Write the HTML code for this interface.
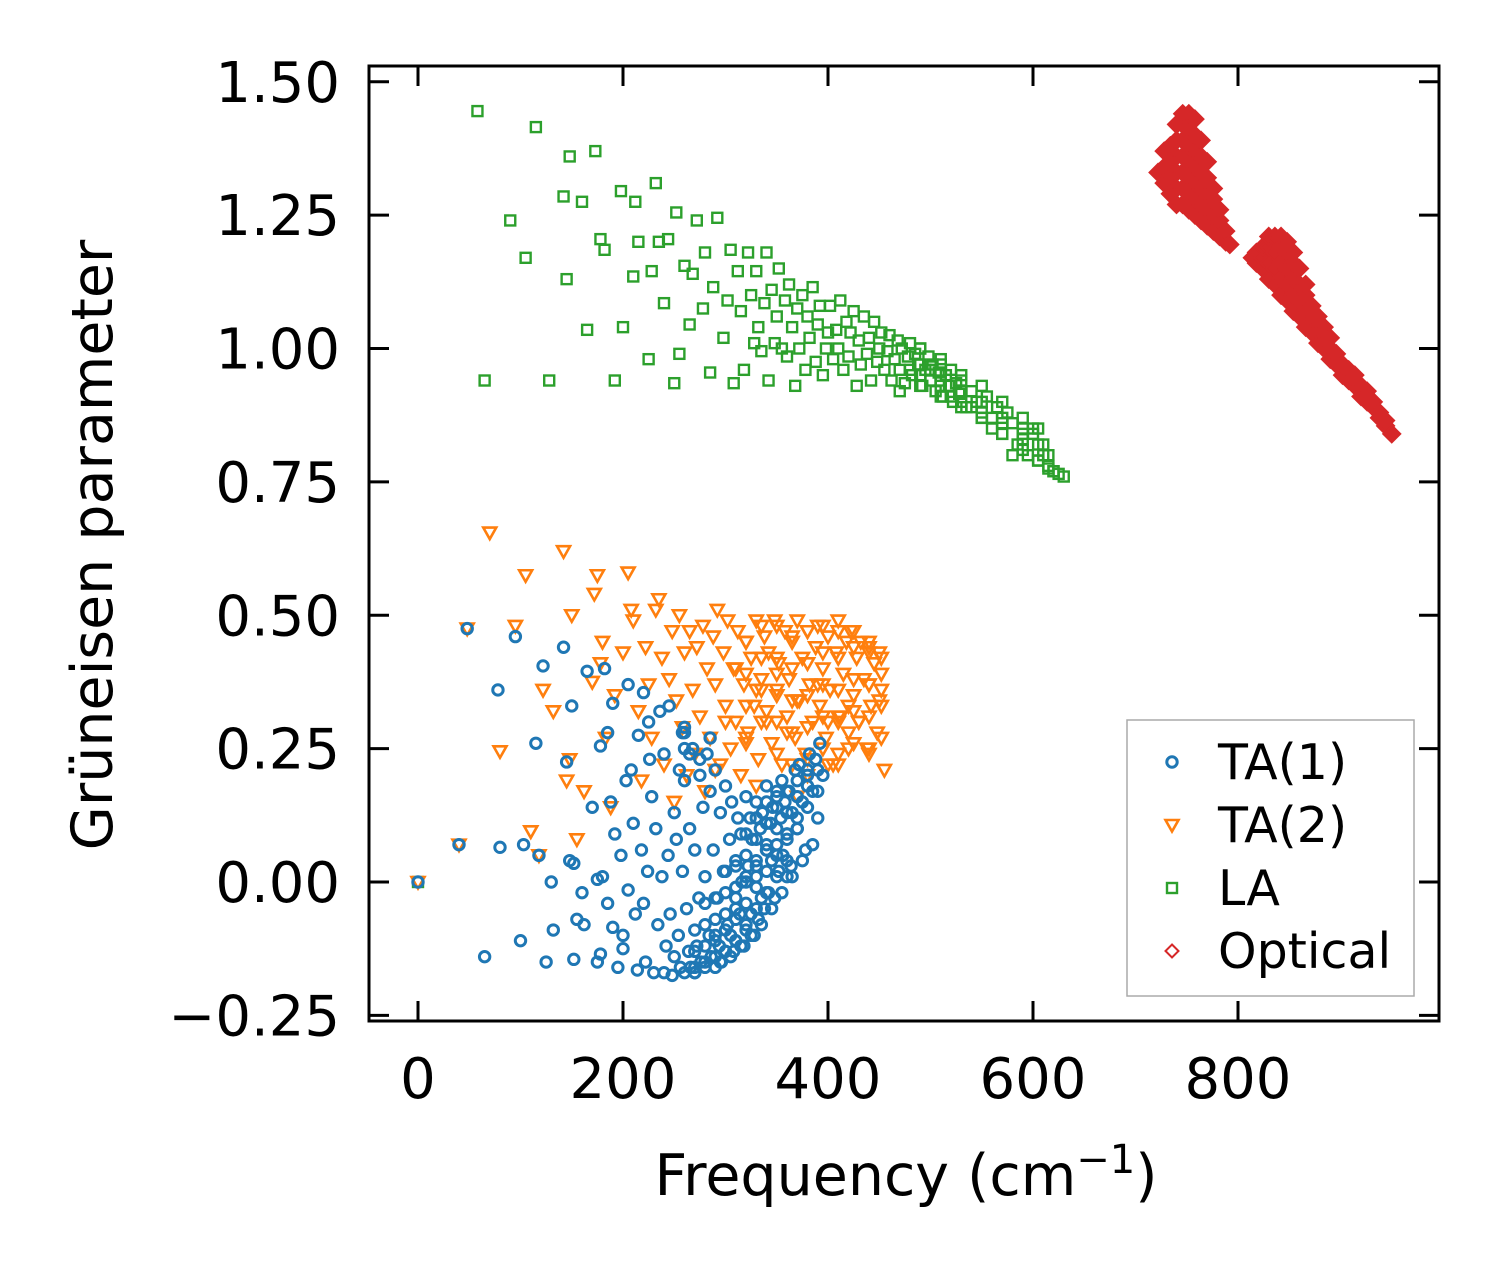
<!DOCTYPE html>
<html><head><meta charset="utf-8"><style>
html,body{margin:0;padding:0;background:#fff}
svg{display:block;font-family:"DejaVu Sans","Liberation Sans",sans-serif}
</style></head><body>
<svg id="chart" width="1499" height="1270" viewBox="0 0 1499 1270">
<rect x="0" y="0" width="1499" height="1270" fill="#fff"/>
<g id="marks"></g>
<g id="axes"></g>
<text x="906" y="1195" font-size="57" text-anchor="middle">Frequency (cm<tspan dy="-22" font-size="40">−1</tspan><tspan dy="22">)</tspan></text>
<text transform="translate(112,545) rotate(-90)" font-size="57" text-anchor="middle">Grüneisen parameter</text>
<g id="legend">
<rect x="1127" y="720" width="287" height="276" fill="#fff" stroke="#aaa" stroke-width="1.5"/>
</g>
</svg>
<script>
const xTicks=[0,200,400,600,800];
const yTicks=[-0.25,0,0.25,0.5,0.75,1.0,1.25,1.5];
const yTickLabels=["−0.25","0.00","0.25","0.50","0.75","1.00","1.25","1.50"];
const seriesNames=["TA(1)","TA(2)","LA","Optical"];
const ta1X=[0,40,48,65,78,80,95,100,103,115,118,122,125,130,132,142,145,148,150,152,152,155,160,162,165,170,175,175,178,178,180,182,185,185,188,190,190,192,195,198,200,200,203,205,205,208,210,212,214,215,218,220,220,222,224,225,226,228,230,232,234,236,238,240,240,242,244,245,246,248,250,250,252,254,255,256,258,258,260,260,262,264,265,266,268,270,270,272,274,275,276,278,280,280,282,284,285,286,288,290,290,292,294,295,296,298,300,300,302,304,305,306,308,310,310,312,314,315,316,318,320,320,322,324,325,326,328,330,330,332,334,335,336,338,340,340,342,344,345,346,348,350,350,352,354,355,356,358,360,360,362,364,365,368,370,372,375,378,380,382,385,388,390,392,395,
260,260,260,270,270,270,270,280,280,280,280,290,290,290,290,290,300,300,300,300,300,310,310,310,310,310,310,320,320,320,320,320,320,330,330,330,330,330,330,340,340,340,340,340,340,350,350,350,350,350,360,360,360,360,360,370,370,370,370,380,380,380,390,390,
265,275,285,295,305,315,325,335,345,355,365,375,385];
const ta1Y=[0,0.07,0.475,-0.14,0.36,0.065,0.46,-0.11,0.07,0.26,0.05,0.405,-0.15,0,-0.09,0.44,0.225,0.04,0.33,-0.145,0.035,-0.07,-0.02,-0.08,0.395,0.14,0.005,-0.15,0.255,-0.135,0.01,0.4,0.28,-0.04,0.15,0.335,-0.085,0.09,-0.16,0.05,-0.1,-0.125,0.19,0.37,-0.015,0.21,0.11,-0.06,-0.165,0.275,0.06,0.355,-0.04,-0.15,0.02,0.3,0.23,0.16,-0.17,0.1,-0.08,0.32,0.01,-0.17,0.24,-0.12,0.05,0.33,-0.06,-0.175,0.13,-0.14,0.08,-0.1,0.21,-0.16,0.28,0.02,-0.17,0.19,-0.05,-0.13,0.1,-0.16,0.25,-0.17,0.06,-0.12,-0.03,0.2,-0.15,0.14,-0.16,0.01,0.24,-0.1,0.17,-0.14,0.06,-0.16,0.21,-0.03,-0.12,0.13,-0.15,0.02,-0.13,0.18,-0.08,0.08,-0.1,0.15,-0.13,0.04,-0.11,0.12,-0.06,0.09,0,-0.12,0.16,-0.09,0.03,0.12,-0.06,0.08,-0.1,0.15,0.01,-0.07,0.1,-0.03,0.13,-0.05,0.06,0.18,-0.02,0.11,0.04,0.14,-0.03,0.16,0.07,0.02,0.12,0.19,0.05,0.15,0.01,0.09,0.17,0.03,0.13,0.21,0.1,0.22,0.15,0.06,0.2,0.24,0.17,0.23,0.12,0.26,0.2,0.25,0.28,0.29,
-0.17,-0.13,-0.09,-0.16,-0.12,-0.08,-0.04,-0.15,-0.11,-0.07,-0.03,-0.14,-0.10,-0.06,-0.02,0.02,-0.13,-0.09,-0.05,-0.01,0.03,-0.11,-0.07,-0.03,0.01,0.05,0.09,-0.08,-0.04,0,0.04,0.08,0.12,-0.05,-0.01,0.03,0.07,0.11,0.15,-0.02,0.02,0.06,0.10,0.14,0.17,0.01,0.05,0.09,0.13,0.17,0.04,0.08,0.12,0.16,0.19,0.10,0.14,0.18,0.21,0.17,0.21,0.24,0.23,0.27,
-0.15,-0.14,-0.12,-0.1,-0.08,-0.05,-0.02,0.01,0.04,0.07,0.1,0.13,0.19];
const ta2X=[0,40,48,70,80,95,105,110,118,122,132,142,145,148,150,155,162,170,172,175,178,180,183,188,192,200,205,208,210,215,218,222,225,228,232,235,238,240,245,248,250,252,255,258,260,262,265,268,270,272,275,278,280,282,285,288,290,292,295,298,300,302,305,308,310,312,315,318,320,322,325,328,330,332,335,338,340,342,345,348,350,352,355,358,360,362,365,368,370,372,375,378,380,382,385,388,390,392,395,398,400,402,405,408,410,412,415,418,420,422,425,428,430,432,435,438,440,442,445,448,450,452,455,300,320,340,360,380,400,420,440,310,330,350,370,390,410,430,450,290,330,370,410,440,380,400,420,
350,350,350,350,350,365,365,365,365,365,380,380,380,380,380,395,395,395,395,395,410,410,410,410,410,425,425,425,425,425,440,440,440,440,440,452,452,452,452,320,320,320,320,335,335,335,335];
const ta2Y=[0,0.07,0.475,0.655,0.245,0.48,0.575,0.095,0.05,0.36,0.32,0.62,0.19,0.23,0.5,0.08,0.17,0.375,0.54,0.575,0.41,0.45,0.27,0.14,0.35,0.43,0.58,0.51,0.49,0.32,0.19,0.44,0.37,0.27,0.51,0.53,0.42,0.22,0.38,0.47,0.15,0.34,0.5,0.29,0.43,0.2,0.47,0.36,0.24,0.44,0.31,0.48,0.17,0.4,0.27,0.46,0.37,0.51,0.22,0.43,0.33,0.49,0.25,0.4,0.3,0.47,0.2,0.37,0.45,0.28,0.42,0.33,0.49,0.23,0.38,0.46,0.3,0.43,0.26,0.49,0.35,0.41,0.22,0.47,0.31,0.38,0.45,0.27,0.49,0.34,0.42,0.24,0.47,0.37,0.3,0.44,0.48,0.33,0.4,0.27,0.46,0.36,0.22,0.43,0.49,0.31,0.39,0.45,0.28,0.47,0.35,0.42,0.3,0.45,0.38,0.25,0.44,0.33,0.41,0.28,0.43,0.36,0.21,0.3,0.26,0.32,0.28,0.35,0.3,0.33,0.37,0.4,0.36,0.39,0.34,0.37,0.31,0.3,0.34,0.21,0.18,0.16,0.22,0.24,0.2,0.22,0.25,
0.24,0.30,0.36,0.42,0.48,0.22,0.28,0.34,0.40,0.46,0.23,0.29,0.35,0.41,0.47,0.25,0.31,0.37,0.43,0.48,0.24,0.30,0.36,0.42,0.47,0.26,0.32,0.38,0.44,0.47,0.25,0.31,0.37,0.43,0.45,0.27,0.33,0.39,0.42,0.27,0.33,0.39,0.45,0.30,0.36,0.42,0.48];
const laX=[0,58,65,90,105,115,128,142,145,148,160,165,173,178,182,192,198,200,210,212,215,225,228,232,235,240,244,250,252,255,260,265,268,272,278,280,285,288,292,298,302,305,308,312,315,318,322,325,328,330,332,335,338,340,342,345,348,350,352,355,358,360,362,365,368,370,372,375,378,380,382,385,388,390,392,395,398,400,402,405,408,410,412,415,418,420,422,425,428,430,432,435,438,440,442,445,448,450,452,455,458,460,462,465,468,470,472,475,478,480,482,485,488,490,492,495,498,500,502,505,508,510,512,515,518,520,522,525,528,530,535,540,545,550,555,560,565,570,575,580,585,590,595,600,605,610,615,620,625,630,470,490,510,530,550,570,590,610,480,500,520,540,560,580,600,
490,490,490,510,510,510,530,530,530,550,550,550,570,570,570,590,590,590,605,605,605,615,615,620];
const laY=[0,1.445,0.94,1.24,1.17,1.415,0.94,1.285,1.13,1.36,1.275,1.035,1.37,1.205,1.185,0.94,1.295,1.04,1.135,1.275,1.2,0.98,1.145,1.31,1.2,1.085,1.205,0.935,1.255,0.99,1.155,1.045,1.14,1.24,1.075,1.18,0.955,1.115,1.245,1.02,1.09,1.185,0.935,1.145,1.07,0.96,1.18,1.1,1.01,1.145,1.04,0.995,1.085,1.18,0.94,1.11,1.01,1.06,1.15,1.0,1.09,0.985,1.12,1.04,0.93,1.075,1.0,1.1,0.96,1.06,1.02,1.115,0.975,1.045,1.08,0.95,1.0,1.03,1.08,0.98,1.035,1.0,1.09,0.96,1.05,0.985,1.03,1.07,0.93,1.015,0.97,1.06,0.99,1.02,0.94,1.05,0.975,1.0,1.03,0.96,0.995,1.025,0.94,0.98,1.015,0.96,1.0,0.935,0.985,1.01,0.95,0.99,0.97,1.0,0.93,0.96,0.985,0.94,0.97,0.92,0.955,0.98,0.91,0.95,0.93,0.96,0.9,0.935,0.915,0.94,0.89,0.92,0.9,0.88,0.91,0.87,0.89,0.84,0.88,0.86,0.82,0.85,0.8,0.84,0.79,0.82,0.78,0.77,0.765,0.76,0.92,0.95,0.93,0.9,0.87,0.86,0.83,0.8,0.96,0.96,0.91,0.89,0.85,0.8,0.85,
0.93,0.97,1.0,0.91,0.94,0.97,0.89,0.92,0.95,0.87,0.9,0.93,0.84,0.87,0.9,0.81,0.84,0.87,0.79,0.82,0.85,0.775,0.8,0.77];
const optX=[722,728,728,728,734,734,734,734,740,740,740,740,740,740,746,746,746,746,746,746,746,752,752,752,752,752,752,752,758,758,758,758,758,758,758,764,764,764,764,764,764,770,770,770,770,770,776,776,776,776,782,782,782,788,788,792,
814,818,818,824,824,824,830,830,830,830,836,836,836,836,842,842,842,842,842,848,848,848,848,848,854,854,854,854,854,860,860,860,860,866,866,866,866,872,872,872,878,878,878,884,884,884,890,890,890,896,896,902,902,908,908,914,914,920,920,926,926,932,932,938,938,944,944,950];
const optY=[1.33,1.31,1.34,1.37,1.29,1.32,1.35,1.38,1.27,1.30,1.33,1.36,1.39,1.42,1.27,1.30,1.33,1.36,1.39,1.42,1.44,1.26,1.29,1.32,1.35,1.38,1.41,1.44,1.25,1.28,1.31,1.34,1.37,1.40,1.43,1.24,1.27,1.30,1.33,1.36,1.39,1.23,1.26,1.29,1.32,1.35,1.22,1.25,1.28,1.30,1.21,1.24,1.26,1.20,1.22,1.195,
1.17,1.16,1.18,1.15,1.17,1.19,1.13,1.16,1.19,1.21,1.12,1.15,1.18,1.21,1.10,1.13,1.16,1.19,1.21,1.09,1.12,1.15,1.18,1.20,1.07,1.10,1.13,1.16,1.18,1.06,1.09,1.12,1.15,1.04,1.07,1.10,1.12,1.03,1.06,1.08,1.01,1.04,1.06,1.00,1.02,1.04,0.98,1.00,1.02,0.97,0.99,0.95,0.97,0.94,0.96,0.93,0.95,0.91,0.93,0.90,0.92,0.89,0.90,0.87,0.88,0.855,0.865,0.84];

const X0=418, XS=1.025, Y0=882, YS=533.5;
function sx(v){return X0+v*XS;}
function sy(v){return Y0-v*YS;}
const NS="http://www.w3.org/2000/svg";
const marks=document.getElementById('marks');
const axes=document.getElementById('axes');
const legend=document.getElementById('legend');
function mk(tag,attrs,parent){const e=document.createElementNS(NS,tag);for(const k in attrs)e.setAttribute(k,attrs[k]);parent.appendChild(e);return e;}
const colors={ta1:"#1f77b4",ta2:"#ff7f0e",la:"#2ca02c",opt:"#d62728"};
function marker(kind,cx,cy,parent,big){
  let e;
  if(kind==="ta1") e=mk('circle',{cx:cx,cy:cy,r:5.2,fill:'none',stroke:colors.ta1,'stroke-width':3},parent);
  else if(kind==="ta2") e=mk('polygon',{points:`${cx-6.5},${cy-5} ${cx+6.5},${cy-5} ${cx},${cy+6.5}`,fill:'none',stroke:colors.ta2,'stroke-width':2.6},parent);
  else if(kind==="la") e=mk('rect',{x:cx-5,y:cy-5,width:10,height:10,fill:'none',stroke:colors.la,'stroke-width':2.4},parent);
  else { const r=big?8.5:6.5; e=mk('polygon',{points:`${cx},${cy-r} ${cx+r},${cy} ${cx},${cy+r} ${cx-r},${cy}`,fill:big?colors.opt:'none',stroke:colors.opt,'stroke-width':2},parent);}
  return e;
}
function drawSeries(xs,ys,kind){
  const g=mk('g',{},marks);
  
  
  for(let i=0;i<xs.length;i++){
    const e=marker(kind,sx(xs[i]),sy(ys[i]),g,true);
    
    
  }
}
drawSeries(optX,optY,"opt");
drawSeries(laX,laY,"la");
drawSeries(ta2X,ta2Y,"ta2");
drawSeries(ta1X,ta1Y,"ta1");

const frame=mk('rect',{x:369,y:66,width:1070,height:955,fill:'none',stroke:'#000','stroke-width':3},axes);


xTicks.forEach(t=>{
  const x=sx(t);
  const a=mk('line',{x1:x,y1:1021,x2:x,y2:1001,stroke:'#000','stroke-width':3},axes);
  
  
  const b=mk('line',{x1:x,y1:66,x2:x,y2:86,stroke:'#000','stroke-width':3},axes);
  
  
  const l=mk('text',{x:x,y:1098,'font-size':56,'text-anchor':'middle'},axes);
  l.textContent=String(t);
  
  
});
yTicks.forEach((t,i)=>{
  const y=sy(t);
  const a=mk('line',{x1:369,y1:y,x2:389,y2:y,stroke:'#000','stroke-width':3},axes);
  
  
  const b=mk('line',{x1:1439,y1:y,x2:1419,y2:y,stroke:'#000','stroke-width':3},axes);
  
  
  const l=mk('text',{x:340,y:y+20,'font-size':56,'text-anchor':'end'},axes);
  l.textContent=yTickLabels[i];
  
  
});
["ta1","ta2","la","opt"].forEach((k,i)=>{
  const y=762+i*63;
  const m=marker(k,1172,y,legend,false);
  
  
  const t=mk('text',{x:1218,y:y+17,'font-size':49},legend);
  t.textContent=seriesNames[i];
  
  
});
</script>
</body></html>
